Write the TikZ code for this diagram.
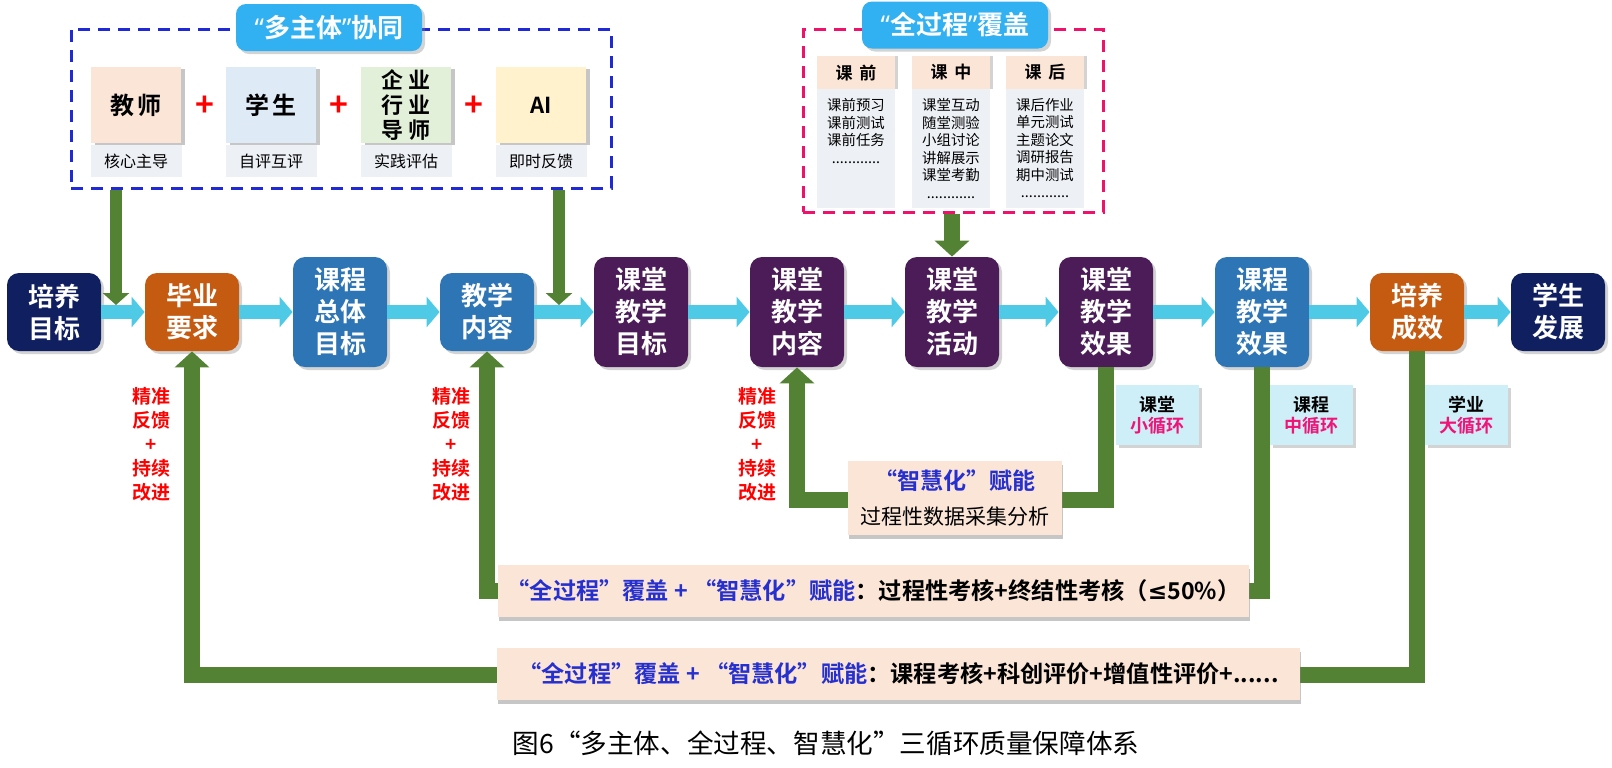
\documentclass[tikz,border=0pt]{standalone}
\usepackage{fontspec}
\setmainfont{Noto Sans CJK SC}[BoldFont={Noto Sans CJK SC Bold}]
\newfontfamily\latinq{Noto Sans}
\newfontfamily\symq{DejaVu Sans}
\usetikzlibrary{arrows.meta}
\usetikzlibrary{shadows}
\definecolor{cNavy}{HTML}{0F1F5F}
\definecolor{cRust}{HTML}{C55A11}
\definecolor{cSteel}{HTML}{2E75B6}
\definecolor{cPlum}{HTML}{4B1C57}
\definecolor{cSky}{HTML}{4FCAE6}
\definecolor{cLeaf}{HTML}{548235}
\definecolor{cPill}{HTML}{31B0F2}
\definecolor{cDashBlue}{HTML}{2029D8}
\definecolor{cDashPink}{HTML}{F0116B}
\definecolor{cTxtBlue}{HTML}{2630D0}
\definecolor{cHotPink}{HTML}{F01478}
\definecolor{cLoopBg}{HTML}{CFEFF8}
\definecolor{cPeach}{HTML}{FBE5D6}
\definecolor{cPaleBlue}{HTML}{DEEBF7}
\definecolor{cPaleGreen}{HTML}{E2F0D9}
\definecolor{cPaleYellow}{HTML}{FFF2CC}
\definecolor{cPaleGray}{HTML}{EDF0F5}
\begin{document}
\begin{tikzpicture}[x=0.5pt, y=-0.5pt,
  shade off/.style={drop shadow={shadow xshift=1.5pt, shadow yshift=-1.5pt, opacity=0.35}},
  stage/.style={rectangle, rounded corners=6pt, minimum width=47pt, inner sep=0pt, align=center, text=white, font=\bfseries\fontsize{13pt}{16pt}\selectfont, shade off},
  stageS/.style={stage, minimum height=39pt},
  stageT/.style={stage, minimum height=55pt},
  flow/.style={draw=cSky, line width=7pt, -{Triangle[width=15pt, length=6.5pt]}},
  feed/.style={draw=cLeaf, line width=8pt, -{Triangle[width=17pt, length=8pt]}},
  feedthin/.style={draw=cLeaf, line width=6pt, -{Triangle[width=13pt, length=6pt]}},
  grp/.style={rectangle, inner sep=0pt, line width=1.5pt, dash pattern=on 6pt off 4pt},
  pill/.style={rectangle, rounded corners=5pt, fill=cPill, text=white, minimum width=93pt, minimum height=23.5pt, font=\bfseries\fontsize{13pt}{13pt}\selectfont, shade off},
  role/.style={rectangle, minimum width=45pt, minimum height=38pt, inner sep=0pt, align=center, font=\bfseries\fontsize{12pt}{13pt}\selectfont, drop shadow={shadow xshift=2pt, shadow yshift=-1pt, opacity=0.45}},
  roleTag/.style={rectangle, fill=cPaleGray, minimum width=45.5pt, minimum height=16pt, inner sep=0pt, font=\fontsize{8pt}{9pt}\selectfont},
  plusSign/.style={text=red, inner sep=0pt, font=\bfseries\fontsize{16pt}{16pt}\selectfont},
  colHead/.style={rectangle, fill=cPeach, minimum width=39pt, minimum height=16.5pt, inner sep=0pt, font=\bfseries\fontsize{8.5pt}{9pt}\selectfont, drop shadow={shadow xshift=1.5pt, shadow yshift=0pt, opacity=0.35}},
  colBody/.style={rectangle, fill=cPaleGray, minimum width=39pt, minimum height=59.5pt, inner sep=0pt, anchor=north},
  colText/.style={align=center, inner sep=0pt, anchor=north, font=\fontsize{7.2pt}{8.75pt}\selectfont},
  loopTag/.style={rectangle, fill=cLoopBg, minimum width=41.5pt, minimum height=30pt, inner sep=0pt, align=center, font=\bfseries\fontsize{9pt}{10.5pt}\selectfont, shade off},
  fixTxt/.style={text=red, align=center, inner sep=0pt, font=\bfseries\fontsize{9.5pt}{12pt}\selectfont},
  evalBar/.style={rectangle, fill=cPeach, minimum height=26pt, inner sep=0pt, font=\bfseries\fontsize{11.6pt}{12pt}\selectfont, drop shadow={shadow xshift=0.5pt, shadow yshift=-2pt, opacity=0.45}}]
\useasboundingbox (0,0) rectangle (1612,767);

\node at ( 341, 108.5) (dtZt) [grp, draw=cDashBlue, minimum width=270pt, minimum height=79.5pt] {};
\node at ( 329,  27.5) (ptZt) [pill] {{\latinq “}多主体{\latinq ”}协同};
\node at ( 136, 105) (jsR) [role, fill=cPeach] {教\hspace{2pt}师};
\node at ( 271, 105) (xsR) [role, fill=cPaleBlue] {学\hspace{2pt}生};
\node at ( 406, 105) (qyR) [role, fill=cPaleGreen, font=\bfseries\fontsize{11pt}{12.5pt}\selectfont] {企\hspace{3pt}业\\行\hspace{3pt}业\\导\hspace{3pt}师};
\node at ( 541, 105) (aiR) [role, fill=cPaleYellow, font=\bfseries\fontsize{11pt}{12pt}\selectfont] {AI};
\node at ( 136, 161) (jsT) [roleTag] {核心主导};
\node at ( 271, 161) (xsT) [roleTag] {自评互评};
\node at ( 406, 161) (qyT) [roleTag] {实践评估};
\node at ( 541, 161) (aiT) [roleTag] {即时反馈};
\node at ( 205, 106) (plA) [plusSign] {+};
\node at ( 339, 106) (plB) [plusSign] {+};
\node at ( 474, 106) (plC) [plusSign] {+};

\node at ( 953, 120.5) (dtQgc) [grp, draw=cDashPink, minimum width=150pt, minimum height=91.5pt] {};
\node at ( 955,  25) (ptQgc) [pill] {{\latinq “}全过程{\latinq ”}覆盖};
\node at ( 856, 72.5) (kqH) [colHead] {课\hspace{3.5pt}前};
\node at ( 951, 72.5) (kzH) [colHead] {课\hspace{3.5pt}中};
\node at (1045, 72.5) (khH) [colHead] {课\hspace{3.5pt}后};
\node at ( 856, 89) (kqB) [colBody] {};
\node at ( 951, 89) (kzB) [colBody] {};
\node at (1045, 89) (khB) [colBody] {};
\node at ( 856, 98) (kqL) [colText] {课前预习\\课前测试\\课前任务\\............};
\node at ( 951, 98) (kzL) [colText] {课堂互动\\随堂测验\\小组讨论\\讲解展示\\课堂考勤\\............};
\node at (1045, 98) (khL) [colText] {课后作业\\单元测试\\主题论文\\调研报告\\期中测试\\............};

\node at (  54, 312) (pyMb) [stageS, fill=cNavy] {培养\\目标};
\node at ( 192, 312) (byYq) [stageS, fill=cRust] {毕业\\要求};
\node at ( 340, 312) (kcZt) [stageT, fill=cSteel] {课程\\总体\\目标};
\node at ( 487, 312) (jxNr) [stageS, fill=cSteel] {教学\\内容};
\node at ( 641, 312) (ktMb) [stageT, fill=cPlum] {课堂\\教学\\目标};
\node at ( 797, 312) (ktNr) [stageT, fill=cPlum] {课堂\\教学\\内容};
\node at ( 952, 312) (ktHd) [stageT, fill=cPlum] {课堂\\教学\\活动};
\node at (1106, 312) (ktXg) [stageT, fill=cPlum] {课堂\\教学\\效果};
\node at (1262, 312) (kcXg) [stageT, fill=cSteel] {课程\\教学\\效果};
\node at (1417, 312) (pyCx) [stageS, fill=cRust] {培养\\成效};
\node at (1558, 312) (xsFz) [stageS, fill=cNavy] {学生\\发展};

\draw [flow] (pyMb.east) -- (byYq.west);
\draw [flow] (byYq.east) -- (kcZt.west);
\draw [flow] (kcZt.east) -- (jxNr.west);
\draw [flow] (jxNr.east) -- (ktMb.west);
\draw [flow] (ktMb.east) -- (ktNr.west);
\draw [flow] (ktNr.east) -- (ktHd.west);
\draw [flow] (ktHd.east) -- (ktXg.west);
\draw [flow] (ktXg.east) -- (kcXg.west);
\draw [flow] (kcXg.east) -- (pyCx.west);
\draw [flow] (pyCx.east) -- (xsFz.west);

\coordinate (inA) at (116, 305);
\coordinate (inB) at (559, 305);
\draw [feedthin] (dtZt.south -| inA) -- (inA);
\draw [feedthin] (dtZt.south -| inB) -- (inB);
\draw [feed] (dtQgc.south -| ktHd.north) -- (ktHd.north);

\coordinate (smallY) at (0, 500);
\coordinate (midY)   at (0, 591);
\coordinate (bigY)   at (0, 675);
\draw [feed] (ktXg.south) |- (ktNr.south |- smallY) -- (ktNr.south);
\draw [feed] (kcXg.south) |- (jxNr.south |- midY) -- (jxNr.south);
\draw [feed] (pyCx.south) |- (byYq.south |- bigY) -- (byYq.south);

\node at (1157.5, 415) (xxh) [loopTag] {课堂\\\textcolor{cHotPink}{小循环}};
\node at (1311.5, 415) (zxh) [loopTag] {课程\\\textcolor{cHotPink}{中循环}};
\node at (1466.5, 415) (dxh) [loopTag] {学业\\\textcolor{cHotPink}{大循环}};

\node at ( 151, 444) (fkA) [fixTxt] {精准\\反馈\\+\\持续\\改进};
\node at ( 451, 444) (fkB) [fixTxt] {精准\\反馈\\+\\持续\\改进};
\node at ( 757, 444) (fkC) [fixTxt] {精准\\反馈\\+\\持续\\改进};

\node at ( 955, 498) (znh) [evalBar, minimum width=107pt, minimum height=37pt, align=center, font=\fontsize{10.5pt}{17.5pt}\selectfont] {{\fontsize{11.5pt}{17.5pt}\selectfont\textbf{\textcolor{cTxtBlue}{“智慧化”赋能}}}\\过程性数据采集分析};
\node at (873.5, 591) (kcBar) [evalBar, minimum width=375.5pt] {\textcolor{cTxtBlue}{“全过程”覆盖 + “智慧化”赋能}：过程性考核+终结性考核（{\symq ≤}50\%）};
\node at (898.5, 674) (xyBar) [evalBar, minimum width=401.5pt] {\textcolor{cTxtBlue}{“全过程”覆盖 + “智慧化”赋能}：课程考核+科创评价+增值性评价+......};

\node at ( 826, 743) (cap) [font=\fontsize{13.3pt}{15pt}\selectfont] {图6“多主体、全过程、智慧化”三循环质量保障体系};
\end{tikzpicture}
\end{document}
